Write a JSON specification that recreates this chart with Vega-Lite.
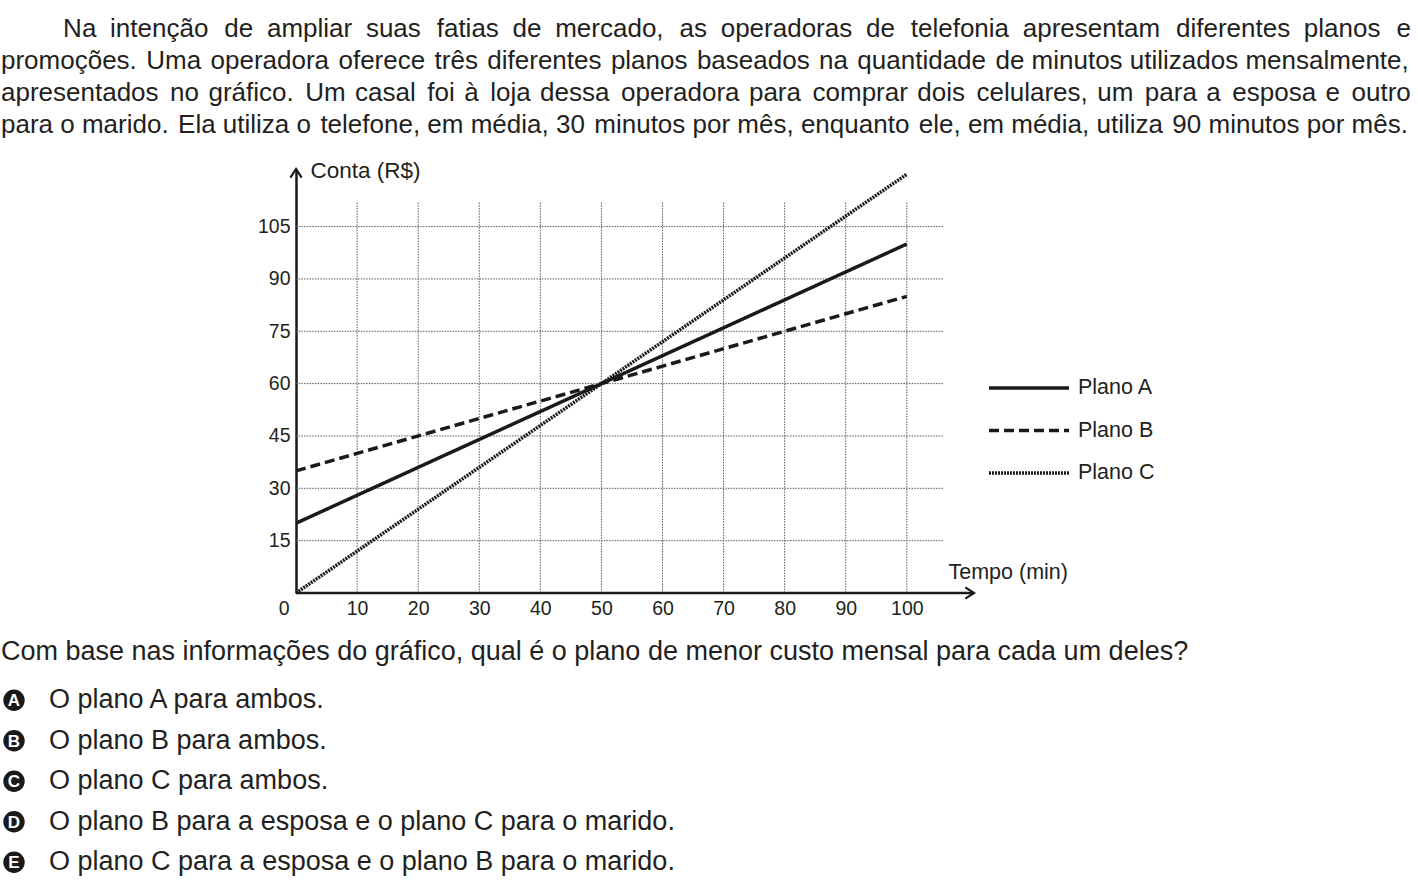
{
  "$schema": "https://vega.github.io/schema/vega-lite/v6.json",
  "background": "white",
  "padding": {"left": 1, "top": 16, "right": 0, "bottom": 0},
  "config": {
    "view": {"stroke": null},
    "font": "Liberation Sans",
    "axis": {"labelFont": "Liberation Sans", "titleFont": "Liberation Sans"},
    "legend": {"labelFont": "Liberation Sans"}
  },
  "title": {
    "text": [
      "\u200b\u00a0\u00a0\u00a0\u00a0\u00a0\u00a0\u00a0\u00a0\u2006Na \u2005intenção \u2005\u200ade \u2005ampliar \u2005suas \u2005\u200afatias \u2005de \u2005mercado, \u2005\u200aas \u2005operadoras \u2005de \u2005\u200atelefonia \u2005apresentam \u2005\u200adiferentes \u2005planos \u2005\u200ae",
      "promoções. \u200aUma \u200aoperadora \u200aoferece \u200atrês \u200adiferentes \u200aplanos \u200abaseados \u200ana \u200aquantidade \u200ade minutos utilizados mensalmente,",
      "apresentados \u2006no \u200agráfico. \u2006Um \u200acasal \u2006foi \u200aà \u2006loja \u200adessa \u2006operadora \u200apara \u2006comprar \u200adois \u2006celulares, \u200aum \u2006para \u200aa \u2006esposa \u200ae \u2006outro",
      "para o marido. \u200aEla utiliza o \u200atelefone, em média, 30 \u200aminutos por mês, enquanto \u200aele, em média, utiliza \u200a90 minutos por mês."
    ],
    "anchor": "start",
    "frame": "bounds",
    "font": "Liberation Sans",
    "fontSize": 26,
    "fontWeight": "normal",
    "color": "#231f20",
    "lineHeight": 32,
    "offset": 21
  },
  "spacing": 20,
  "vconcat": [
    {
      "width": 973,
      "height": 424,
      "layer": [
        {
          "data": {"values": [{"tempo": 10}, {"tempo": 20}, {"tempo": 30}, {"tempo": 40}, {"tempo": 50}, {"tempo": 60}, {"tempo": 70}, {"tempo": 80}, {"tempo": 90}, {"tempo": 100}]},
          "mark": {"type": "rule", "color": "#5a5a5a", "strokeWidth": 1, "strokeDash": [1.5, 1.2]},
          "encoding": {
            "x": {"field": "tempo", "type": "quantitative"},
            "y": {"datum": 0, "type": "quantitative"},
            "y2": {"datum": 112}
          }
        },
        {
          "data": {"values": [{"conta": 15}, {"conta": 30}, {"conta": 45}, {"conta": 60}, {"conta": 75}, {"conta": 90}, {"conta": 105}]},
          "mark": {"type": "rule", "color": "#5a5a5a", "strokeWidth": 1, "strokeDash": [1.5, 1.2]},
          "encoding": {
            "y": {"field": "conta", "type": "quantitative"},
            "x": {"datum": 0, "type": "quantitative"},
            "x2": {"datum": 106}
          }
        },
        {
          "data": {"values": [{}]},
          "mark": {"type": "rule", "color": "#1a1a1a", "strokeWidth": 2.5},
          "encoding": {
            "x": {"datum": 0, "type": "quantitative"},
            "x2": {"datum": 111},
            "y": {"datum": 0, "type": "quantitative"}
          }
        },
        {
          "data": {"values": [
            {"plano": "Plano A", "tempo": 0, "conta": 20},
            {"plano": "Plano A", "tempo": 100, "conta": 100},
            {"plano": "Plano B", "tempo": 0, "conta": 35},
            {"plano": "Plano B", "tempo": 100, "conta": 85},
            {"plano": "Plano C", "tempo": 0, "conta": 0},
            {"plano": "Plano C", "tempo": 100, "conta": 120}
          ]},
          "mark": {"type": "line", "color": "#1a1a1a", "strokeCap": "butt"},
          "encoding": {
            "x": {
              "field": "tempo", "type": "quantitative",
              "scale": {"domain": [-48.3, 111], "nice": false, "zero": false},
              "axis": {
                "values": [0, 10, 20, 30, 40, 50, 60, 70, 80, 90, 100],
                "title": "Tempo (min)",
                "grid": false, "ticks": false, "domain": false,
                "labelFontSize": 19.5, "labelColor": "#231f20", "labelPadding": 6,
                "labelFlush": false, "labelOverlap": false,
                "labelAlign": {"condition": {"test": "datum.value === 0", "value": "right"}, "value": "center"},
                "labelOffset": {"condition": {"test": "datum.value === 0", "value": -7}, "value": 0},
                "titleX": 947, "titleY": -21, "titleAlign": "left", "titleBaseline": "middle",
                "titleAngle": 0, "titleFontSize": 21.5, "titleFontWeight": "normal", "titleColor": "#231f20"
              }
            },
            "y": {
              "field": "conta", "type": "quantitative",
              "scale": {"domain": [0, 121.5], "nice": false, "zero": false},
              "axis": {
                "values": [15, 30, 45, 60, 75, 90, 105],
                "title": "Conta (R$)",
                "offset": -295,
                "grid": false, "ticks": false,
                "domainColor": "#1a1a1a", "domainWidth": 2.5,
                "labelFontSize": 19.5, "labelColor": "#231f20", "labelPadding": 6,
                "titleX": 14, "titleY": 1, "titleAlign": "left", "titleBaseline": "middle",
                "titleAngle": 0, "titleFontSize": 22.5, "titleFontWeight": "normal", "titleColor": "#231f20"
              }
            },
            "strokeWidth": {
              "field": "plano", "type": "nominal",
              "scale": {"domain": ["Plano A", "Plano B", "Plano C"], "range": [3.5, 3.5, 4.5]},
              "legend": null
            },
            "strokeDash": {
              "field": "plano", "type": "nominal",
              "scale": {"domain": ["Plano A", "Plano B", "Plano C"], "range": [[1, 0], [10, 5], [2, 1]]},
              "legend": {
                "title": null,
                "orient": "none",
                "legendX": 1016,
                "legendY": 207,
                "padding": 0,
                "symbolType": "M -4 0 H 4",
                "symbolSize": 400,
                "symbolStrokeColor": "#1a1a1a",
                "symbolStrokeWidth": 3,
                "labelOffset": 37,
                "labelFontSize": 21.5,
                "labelColor": "#231f20",
                "rowPadding": 19.5
              }
            }
          }
        },
        {
          "data": {"values": [{}]},
          "mark": {"type": "point", "filled": false, "color": "#1a1a1a", "strokeWidth": 2.2, "size": 300, "opacity": 1, "shape": "M -1 -0.65 L 0 0 L -1 0.65"},
          "encoding": {"x": {"datum": 111}, "y": {"datum": 0}}
        },
        {
          "data": {"values": [{}]},
          "mark": {"type": "point", "filled": false, "color": "#1a1a1a", "strokeWidth": 2.2, "size": 300, "opacity": 1, "shape": "M -0.65 1 L 0 0 L 0.65 1"},
          "encoding": {"x": {"datum": 0}, "y": {"datum": 121.5}}
        }
      ]
    },
    {
      "width": 900,
      "height": {"step": 40.5},
      "title": {
        "text": "Com base nas informações do gráfico, qual é o plano de menor custo mensal para cada um deles?",
        "anchor": "start", "frame": "group",
        "font": "Liberation Sans", "fontSize": 27, "fontWeight": "normal",
        "color": "#231f20", "offset": 14
      },
      "data": {"values": [
        {"letra": "A", "texto": "O plano A para ambos."},
        {"letra": "B", "texto": "O plano B para ambos."},
        {"letra": "C", "texto": "O plano C para ambos."},
        {"letra": "D", "texto": "O plano B para a esposa e o plano C para o marido."},
        {"letra": "E", "texto": "O plano C para a esposa e o plano B para o marido."}
      ]},
      "encoding": {
        "y": {"field": "letra", "type": "nominal", "axis": null, "scale": {"type": "point"}}
      },
      "layer": [
        {
          "mark": {"type": "point", "filled": true, "shape": "circle", "size": 460, "color": "#1a1a1a", "opacity": 1},
          "encoding": {"x": {"value": 13}}
        },
        {
          "mark": {"type": "text", "color": "white", "font": "Liberation Sans", "fontWeight": "bold", "fontSize": 17, "align": "center", "baseline": "middle", "dy": 1},
          "encoding": {"x": {"value": 13}, "text": {"field": "letra"}}
        },
        {
          "mark": {"type": "text", "color": "#231f20", "font": "Liberation Sans", "fontSize": 27, "align": "left", "baseline": "middle"},
          "encoding": {"x": {"value": 48}, "text": {"field": "texto"}}
        }
      ]
    }
  ]
}
